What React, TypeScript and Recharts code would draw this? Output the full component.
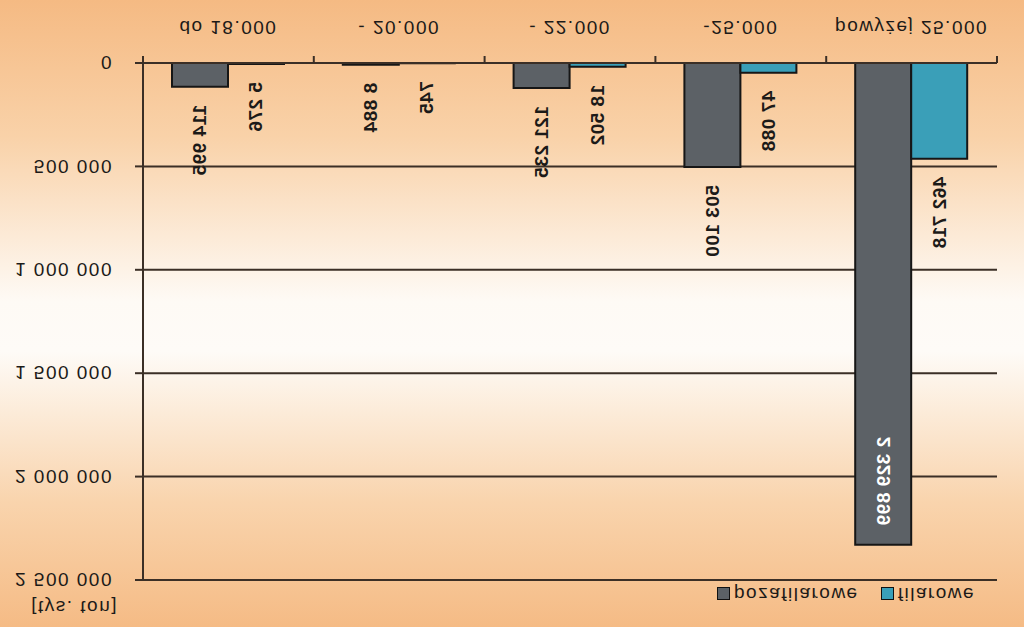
import React from 'react';
import { BarChart, Bar, XAxis, YAxis, CartesianGrid, LabelList } from 'recharts';

const categories = ['do 18.000', '- 20.000', '- 22.000', '-25.000', 'powyżej 25.000'];
const pozafilarowe = [114995, 8884, 121235, 503100, 2329899];
const filarowe = [5276, 745, 18502, 47088, 462718];
const yTicks = [0, 500000, 1000000, 1500000, 2000000, 2500000];

const data = categories.map((name, i) => ({
  name,
  pozafilarowe: pozafilarowe[i],
  filarowe: filarowe[i],
}));

const W = 1024;
const H = 627;
const PLOT_LEFT = 143;
const PLOT_RIGHT = 997;
const PLOT_TOP = 47;
const BAND = (PLOT_RIGHT - PLOT_LEFT) / categories.length;

const INK = '#1c1a18';
const LINE = '#3b2f26';
const GREY = '#5c6166';
const TEAL = '#3a9fb8';
const FONT = '"Liberation Sans", Arial, sans-serif';

const fmt = (v: number) => String(v).replace(/\B(?=(\d{3})+(?!\d))/g, ' ');

function CategoryTick(props: any) {
  const { x, y, payload, index } = props;
  const left = x - BAND / 2;
  const right = x + BAND / 2;
  return (
    <g>
      <line x1={left} y1={y} x2={left} y2={y + 7} stroke={LINE} strokeWidth={2} />
      {index === categories.length - 1 && (
        <line x1={right} y1={y} x2={right} y2={y + 7} stroke={LINE} strokeWidth={2} />
      )}
      <text
        x={x}
        y={y + 36}
        textAnchor="middle"
        dominantBaseline="central"
        fontSize={19}
        letterSpacing={1.5}
        fill={INK}
        fontFamily={FONT}
      >
        {payload.value}
      </text>
    </g>
  );
}

function ValueLabel(props: any) {
  const { x, y, width, value } = props;
  const cx = x + width / 2;
  const text = fmt(Number(value));
  // not enough room above the bar -> write it inside, in white
  const inside = y - 18 - text.length * 12 < PLOT_TOP;
  const ty = inside ? y + 19 : y - 18;
  return (
    <text
      x={cx}
      y={ty}
      transform={`rotate(-90 ${cx} ${ty})`}
      textAnchor={inside ? 'end' : 'start'}
      dominantBaseline="central"
      fontSize={19}
      fontWeight="bold"
      letterSpacing={0.5}
      fill={inside ? '#ffffff' : INK}
      fontFamily={FONT}
    >
      {text}
    </text>
  );
}

function Swatch({ color }: { color: string }) {
  return (
    <span
      style={{
        display: 'inline-block',
        width: 11,
        height: 11,
        background: color,
        border: '1.5px solid #111',
        marginRight: 4,
      }}
    />
  );
}

export default function App() {
  return (
    <div
      style={{
        position: 'absolute',
        left: 0,
        top: 0,
        width: W,
        height: H,
        overflow: 'hidden',
        fontFamily: FONT,
        background:
          'linear-gradient(to bottom, #f5ba83 0%, #f9d2a9 22%, #fefaf5 48%, #fefbf7 56%, #f9d4ad 80%, #f5bb85 100%)',
      }}
    >
      <div style={{ position: 'absolute', left: 0, top: 0, width: W, height: H, transform: 'scaleY(-1)' }}>
        <BarChart
          width={W}
          height={H}
          data={data}
          margin={{ top: PLOT_TOP, right: W - PLOT_RIGHT, left: 0, bottom: 0 }}
          barSize={56}
          barGap={0}
        >
          <CartesianGrid horizontal vertical={false} stroke={LINE} strokeWidth={2} strokeOpacity={1} />
          <XAxis
            dataKey="name"
            height={63}
            axisLine={{ stroke: LINE, strokeWidth: 2 }}
            tickLine={false}
            tickSize={0}
            tickMargin={0}
            interval={0}
            tick={CategoryTick}
          />
          <YAxis
            width={PLOT_LEFT}
            domain={[0, 2500000]}
            ticks={yTicks}
            interval={0}
            tickFormatter={fmt}
            axisLine={{ stroke: LINE, strokeWidth: 2 }}
            tickLine={{ stroke: LINE, strokeWidth: 2 }}
            tickSize={8}
            tickMargin={22}
            tick={{ fontSize: 19, fill: INK, letterSpacing: 1.5, fontFamily: FONT }}
          />
          <YAxis
            yAxisId="frame"
            orientation="right"
            width={0}
            domain={[0, 2500000]}
            tick={false}
            tickLine={false}
            axisLine={{ stroke: LINE, strokeWidth: 2 }}
          />
          <Bar dataKey="pozafilarowe" fill={GREY} stroke="#161616" strokeWidth={2} isAnimationActive={false}>
            <LabelList dataKey="pozafilarowe" content={ValueLabel} />
          </Bar>
          <Bar dataKey="filarowe" fill={TEAL} stroke="#161616" strokeWidth={2} isAnimationActive={false}>
            <LabelList dataKey="filarowe" content={ValueLabel} />
          </Bar>
        </BarChart>

        <div
          style={{
            position: 'absolute',
            left: 0,
            top: 9,
            width: 118,
            textAlign: 'right',
            fontSize: 19,
            lineHeight: '22px',
            letterSpacing: 1.5,
            color: INK,
          }}
        >
          [tys. ton]
        </div>

        <div
          style={{
            position: 'absolute',
            left: 717,
            top: 23,
            height: 20,
            display: 'flex',
            alignItems: 'center',
            fontSize: 19,
            letterSpacing: 1.5,
            color: INK,
            whiteSpace: 'nowrap',
          }}
        >
          <Swatch color={GREY} />
          <span style={{ marginRight: 22 }}>pozafilarowe</span>
          <Swatch color={TEAL} />
          <span>filarowe</span>
        </div>
      </div>
    </div>
  );
}
